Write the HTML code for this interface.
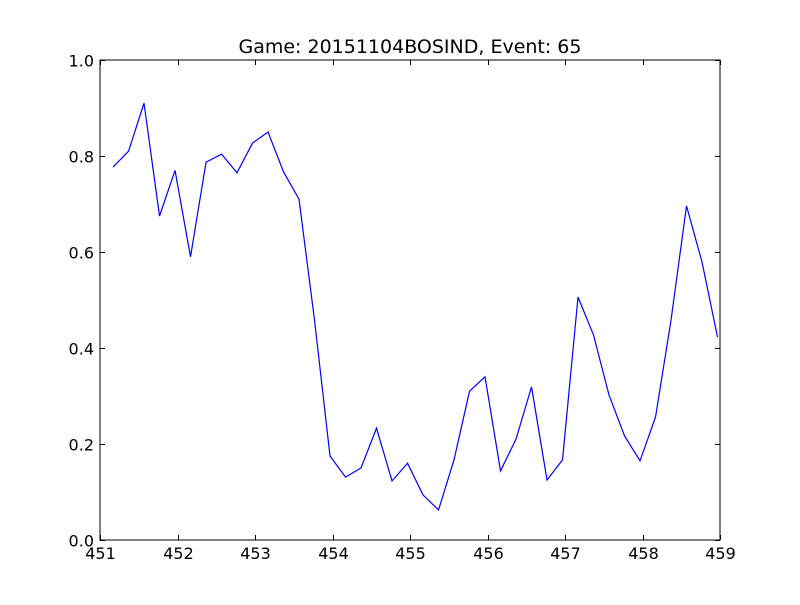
<!DOCTYPE html>
<html><head><meta charset="utf-8"><style>
html,body{margin:0;padding:0;background:#fff;}
svg text{font-family:"DejaVu Sans","Liberation Sans",sans-serif;}
</style></head><body>
<svg id="chart" width="800" height="600" xmlns="http://www.w3.org/2000/svg">
<rect x="0" y="0" width="800" height="600" fill="#fff"/>
<text x="410" y="53" font-size="19" text-anchor="middle">Game: 20151104BOSIND, Event: 65</text>
<g id="ticks"></g>
<polyline id="series" fill="none" stroke="#0000ff" stroke-width="1.2"/>
<rect x="100" y="60" width="620" height="480" fill="none" stroke="#000" stroke-width="1"/>
</svg>
<script>
const xStart = 451.168;
const xStep = 0.2;
const yValues = [0.777,0.81,0.91,0.675,0.77,0.59,0.787,0.804,0.765,0.827,0.85,0.767,0.71,0.458,0.175,0.131,0.15,0.233,0.123,0.16,0.094,0.0625,0.167,0.31,0.34,0.144,0.21,0.319,0.125,0.167,0.506,0.427,0.302,0.217,0.165,0.256,0.458,0.696,0.579,0.423];
const xTicks = [451,452,453,454,455,456,457,458,459];
const yTicks = [0,0.2,0.4,0.6,0.8,1.0];
const yTickLabels = ["0.0","0.2","0.4","0.6","0.8","1.0"];

const X0=100,X1=720,Y0=540,Y1=60;
function sx(v){return X0+(v-451)/(459-451)*(X1-X0);}
function sy(v){return Y0-(v-0)/(1-0)*(Y0-Y1);}
const NS="http://www.w3.org/2000/svg";
const g=document.getElementById('ticks');
function line(x1,y1,x2,y2){const l=document.createElementNS(NS,'line');l.setAttribute('x1',x1);l.setAttribute('y1',y1);l.setAttribute('x2',x2);l.setAttribute('y2',y2);l.setAttribute('stroke','#000');l.setAttribute('stroke-width','1');


g.appendChild(l);}
function text(x,y,s,anchor){const t=document.createElementNS(NS,'text');t.setAttribute('x',x);t.setAttribute('y',y);t.setAttribute('font-size','16');t.setAttribute('text-anchor',anchor);t.textContent=s;


g.appendChild(t);}
xTicks.forEach(v=>{const x=Math.round(sx(v))+0.5;line(x,Y0,x,Y0-5);line(x,Y1,x,Y1+5);text(x,559,String(v),'middle');});
yTicks.forEach((v,i)=>{const y=Math.round(sy(v))+0.5;line(X0,y,X0+5,y);line(X1,y,X1-5,y);text(94,y+6,yTickLabels[i],'end');});
const pts=yValues.map((v,i)=>sx(xStart+i*xStep).toFixed(2)+','+sy(v).toFixed(2)).join(' ');
document.getElementById('series').setAttribute('points',pts);
</script>
</body></html>
